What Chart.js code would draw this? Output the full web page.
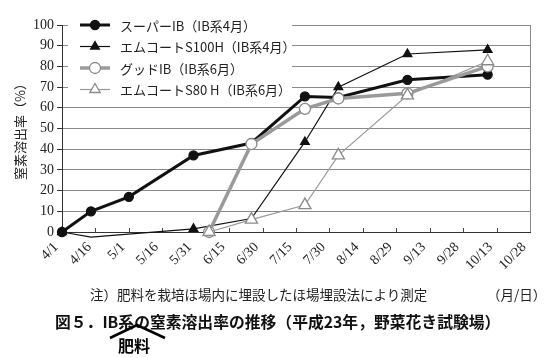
<!DOCTYPE html>
<html><head><meta charset="utf-8">
<script src="https://cdn.jsdelivr.net/npm/chart.js@4/dist/chart.umd.min.js"></script>
<style>
html,body{margin:0;padding:0;background:#fff;}
#wrap{position:relative;width:554px;height:358px;overflow:hidden;background:#fff;}
#c{position:absolute;left:0;top:0;}
.t{position:absolute;white-space:nowrap;font-family:"Noto Sans CJK JP";color:#222;line-height:1;}
</style></head><body>
<div id="wrap">
<canvas id="c" width="554" height="285"></canvas>
<div class="t" style="left:90px;top:288px;font-size:13.5px;">注）肥料を栽培ほ場内に埋設したほ場埋設法により測定</div>
<div class="t" style="left:487px;top:288px;font-size:13.5px;">（月/日）</div>
<div class="t" style="left:55px;top:314px;font-size:15.8px;font-weight:bold;color:#111;">図５．IB系の窒素溶出率の推移（平成23年，野菜花き試験場）</div>
<svg style="position:absolute;left:0;top:0" width="554" height="358"><polyline points="110,338 137,325 165,338" fill="none" stroke="#000" stroke-width="2.5"/></svg>
<div class="t" style="left:118px;top:337px;font-size:16px;font-weight:bold;color:#000">肥料</div>
</div>
<script>
// ---- data ----
const dateLabels = ['4/1','4/14','5/1','5/30','6/6','6/25','7/19','8/3','9/3','10/9'];
const seriesNames = ['スーパーIB（IB系4月）','エムコートS100H（IB系4月）','グッドIB（IB系6月）','エムコートS80 H（IB系6月）'];
const superIB = [0, 10, 17, 37, null, 43, 65.5, 65, 73.5, 76];
const s100    = [0, -2.5, null, 1.5, null, 6.5, 43.5, 70, 86, 88];
const goodIB  = [null, null, null, null, 0, 42.5, 59.5, 64.5, 67, 80];
const s80     = [null, null, null, null, 0, 6, 13, 37, 66, 82.5];
const yTickStep = 10;
const xTickStepDays = 15;
const axisStart = '4/1', axisEnd = '10/28';

const YEAR = 2011;
function toDay(md){ const [m,d]=md.split('/').map(Number); return Math.round((new Date(YEAR,m-1,d)-new Date(YEAR,3,1))/86400000); }
function dayLabel(v){ const dt=new Date(YEAR,3,1+v); return (dt.getMonth()+1)+'/'+dt.getDate(); }
const xs = dateLabels.map(toDay);
function pts(arr){ return arr.map((v,i)=>v===null?null:{x:xs[i],y:v}).filter(p=>p); }

const styles = [
  {color:'#111', width:3, shape:'circle', r:4.5, fill:'#111', stroke:'#111', order:3},
  {color:'#111', width:1.2, shape:'triangle', r:5, fill:'#111', stroke:'#111', order:2},
  {color:'#9a9a9a', width:3.5, shape:'circle', r:5.5, fill:'#fff', stroke:'#8a8a8a', order:1},
  {color:'#9a9a9a', width:1.2, shape:'triangle', r:7, fill:'#fff', stroke:'#8a8a8a', order:0}
];
const series = [superIB, s100, goodIB, s80];

const datasets = series.map((arr,i)=>{
  const s = styles[i];
  return {
    label: seriesNames[i], data: pts(arr), order: s.order,
    borderColor: s.color, borderWidth: s.width, tension: 0, spanGaps: true,
    pointStyle: s.shape, pointRadius: ctx => (ctx.raw && ctx.raw.y < 0) ? 0 : s.r,
    pointBackgroundColor: s.fill, pointBorderColor: s.stroke, pointBorderWidth: 1.3,
    clip: false
  };
});

function drawMarker(ctx, shape, x, y, r, fill, stroke){
  ctx.save();
  ctx.beginPath();
  if(shape==='circle'){ ctx.arc(x,y,r,0,Math.PI*2); }
  else {
    let a=0; ctx.moveTo(x+Math.sin(a)*r, y-Math.cos(a)*r);
    a+=2*Math.PI/3; ctx.lineTo(x+Math.sin(a)*r, y-Math.cos(a)*r);
    a+=2*Math.PI/3; ctx.lineTo(x+Math.sin(a)*r, y-Math.cos(a)*r);
    ctx.closePath();
  }
  ctx.fillStyle=fill; ctx.fill();
  ctx.lineWidth=1.3; ctx.strokeStyle=stroke; ctx.stroke();
  ctx.restore();
}

const deco = {
  id:'deco',
  beforeDatasetsDraw(chart){
    const {ctx, chartArea:a, scales:{x}} = chart;
    ctx.save();
    ctx.strokeStyle='#8a8a8a'; ctx.lineWidth=1;
    ctx.beginPath(); ctx.moveTo(Math.round(a.right)+0.5, a.top); ctx.lineTo(Math.round(a.right)+0.5, a.bottom); ctx.stroke();
    ctx.strokeStyle='#444';
    x.ticks.forEach(t=>{
      if(t.value<=0||t.value>=210) return;
      const px=Math.round(x.getPixelForValue(t.value))+0.5;
      ctx.beginPath(); ctx.moveTo(px,a.bottom); ctx.lineTo(px,a.bottom-4); ctx.stroke();
    });
    ctx.fillStyle='#fff';
    ctx.fillRect(68, 16, 224, 83);
    const rows=[25,46.5,68,89.5];
    chart.data.datasets.forEach((ds,i)=>{
      const s=styles[i], y=rows[i];
      ctx.strokeStyle=s.color; ctx.lineWidth=s.width;
      ctx.beginPath(); ctx.moveTo(80,y); ctx.lineTo(110,y); ctx.stroke();
      drawMarker(ctx, s.shape, 95, y, s.shape==='triangle'? Math.min(s.r,6): s.r, s.fill, s.stroke);
      ctx.fillStyle='#222'; ctx.font='13px "Noto Sans CJK JP"'; ctx.textBaseline='middle'; ctx.textAlign='left';
      ctx.fillText(ds.label, 120, y+1);
    });
    ctx.restore();
  }
};

new Chart(document.getElementById('c'), {
  type:'line',
  data:{datasets},
  options:{
    responsive:false, animation:false, devicePixelRatio:1,
    layout:{padding:{top:25,right:24,left:0,bottom:0}},
    plugins:{legend:{display:false}, tooltip:{enabled:false}},
    scales:{
      x:{type:'linear', min:toDay(axisStart), max:toDay(axisEnd),
        ticks:{stepSize:xTickStepDays, autoSkip:false, maxRotation:45, minRotation:45, labelOffset:-6, padding:7,
          font:{family:'Liberation Serif', size:14}, color:'#222', callback:v=>dayLabel(v)},
        grid:{display:true, drawOnChartArea:false, drawTicks:false},
        border:{display:true, color:'#333', width:1},
        afterFit(s){ s.height=53; }
      },
      y:{min:0, max:100,
        ticks:{stepSize:yTickStep, font:{family:'Liberation Serif', size:14}, color:'#222', padding:3},
        grid:{color:'#8a8a8a', lineWidth:1, tickLength:5, tickColor:'#333', drawTicks:true},
        border:{display:true, color:'#333', width:1},
        title:{display:true, text:'窒素溶出率（%）', font:{family:'Noto Sans CJK JP', size:13}, color:'#222', padding:{top:12,bottom:0}},
        afterFit(s){ s.width=62; }
      }
    }
  },
  plugins:[deco]
});
</script>
</body></html>
